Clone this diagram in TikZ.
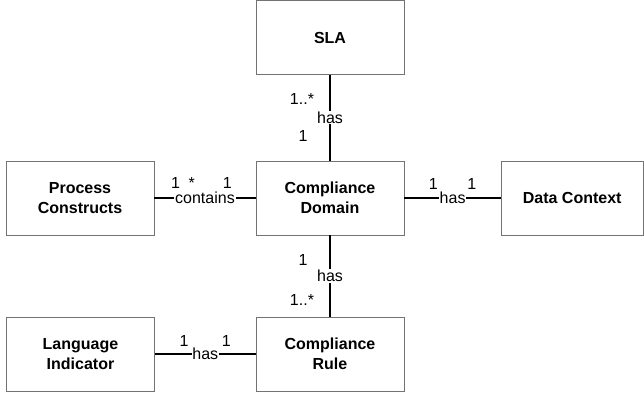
\documentclass[tikz,border=0pt]{standalone}
\usepackage{fontspec}
\setmainfont{Liberation Sans}
\begin{document}
\begin{tikzpicture}[x=1pt,y=-1pt,
  entity/.style={draw=black!55, line width=0.9pt, fill=white, minimum width=148pt, minimum height=74pt,
    inner sep=0pt, align=center, font=\fontsize{16}{20}\selectfont\bfseries},
  conn/.style={line width=2.2pt, black},
  rel/.style={fill=white, inner sep=0.8pt, font=\fontsize{16}{19}\selectfont},
  mult/.style={inner sep=0pt, font=\fontsize{16}{19}\selectfont}]
\useasboundingbox (0,0) rectangle (644,398);
\node[entity] (sla) at (330,37.5) {SLA};
\node[entity] (cd) at (330,198) {Compliance\\Domain};
\node[entity] (pc) at (80,198) {Process\\Constructs};
\node[entity, minimum width=142pt] (dc) at (572.2,198) {Data Context};
\node[entity] (li) at (80.5,354) {Language\\Indicator};
\node[entity] (cr) at (330,354) {Compliance\\Rule};

\draw[conn] (sla.south) -- node[rel] {has}
  node[mult, pos=0.28, xshift=-28pt] {1..*}
  node[mult, pos=0.71, xshift=-27pt] {1} (cd.north);
\draw[conn] (cd.south) -- node[rel] {has}
  node[mult, pos=0.30, xshift=-27pt] {1}
  node[mult, pos=0.80, xshift=-28pt] {1..*} (cr.north);
\draw[conn] (pc.east) -- node[rel] {contains}
  node[mult, pos=0.21, yshift=15pt] {1}
  node[mult, pos=0.37, yshift=15pt] {*}
  node[mult, pos=0.72, yshift=15pt] {1} (cd.west);
\draw[conn] (cd.east) -- node[rel] {has}
  node[mult, pos=0.30, yshift=14pt] {1}
  node[mult, pos=0.70, yshift=14pt] {1} (dc.west);
\draw[conn] (li.east) -- node[rel] {has}
  node[mult, pos=0.29, yshift=13pt] {1}
  node[mult, pos=0.71, yshift=13pt] {1} (cr.west);
\end{tikzpicture}
\end{document}
